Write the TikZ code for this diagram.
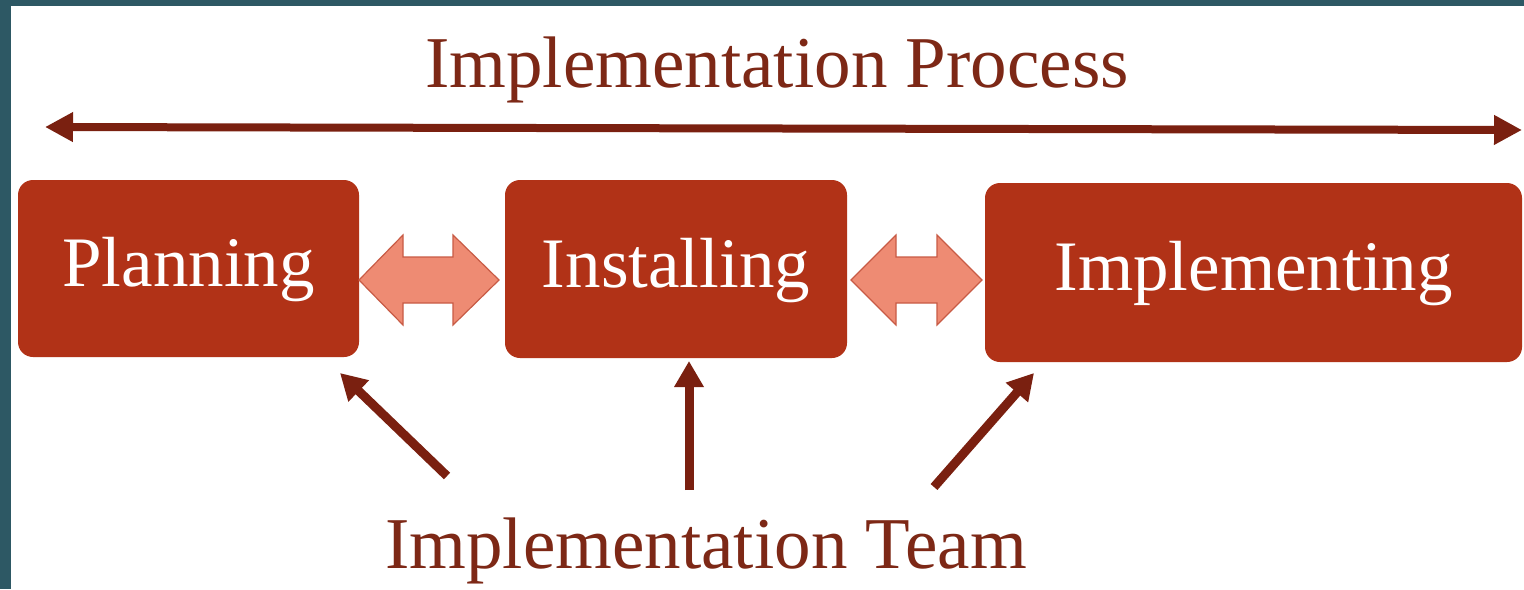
\documentclass[tikz,border=0pt]{standalone}
\usepackage{fontspec}
\setmainfont{Liberation Serif}
\usetikzlibrary{arrows.meta,calc}
\definecolor{bgteal}{HTML}{2D5864}
\definecolor{boxred}{HTML}{B13217}
\definecolor{darkarrow}{HTML}{7A2010}
\definecolor{titlebrown}{HTML}{7D2816}
\definecolor{salmon}{HTML}{EE8B73}
\definecolor{salmonline}{HTML}{C85B45}
\tikzset{
  stagebox/.style={fill=boxred, rounded corners=7.5pt, inner sep=0pt,
    text=white, font=\fontsize{35.5}{40}\selectfont,
    text height=18pt, text depth=0pt},
  titletext/.style={text=titlebrown, font=\fontsize{36.5}{42}\selectfont, inner sep=0pt, anchor=base},
  procarrow/.style={draw=darkarrow, line width=4pt, {Triangle[length=14pt,width=14pt]}-{Triangle[length=14pt,width=14pt]}},
  teamarrow/.style={draw=darkarrow, line width=4.5pt, -{Triangle[length=13pt,width=14pt]}},
  dblarrow/.style={fill=salmon, draw=salmonline, line width=0.6pt, line join=miter}
}
\begin{document}
\begin{tikzpicture}[x=0.5pt,y=-0.5pt]
\fill[bgteal] (0,0) rectangle (1524,589);
\fill[white] (11,6) rectangle (1524,589);
\useasboundingbox (0,0) rectangle (1524,589);

\node[titletext] (title) at (777,87) {Implementation Process};
\coordinate (pl) at (45,127);
\coordinate (pr) at (1522,130);
\draw[procarrow] (pl) -- (pr);

\node[stagebox, minimum width=170.5pt, minimum height=88.5pt] (plan) at (188.5,268.5) {Planning};
\node[stagebox, minimum width=171pt, minimum height=89pt] (inst) at (676,269) {Installing};
\node[stagebox, minimum width=268.5pt, minimum height=89.5pt] (impl) at (1253.5,272.5) {Implementing};

\draw[dblarrow] (359,280) -- (403,235) -- (403,257) -- (453,257) -- (453,235) -- (499,280)
  -- (453,325) -- (453,303) -- (403,303) -- (403,325) -- cycle;
\draw[dblarrow] (851,280) -- (896,235) -- (896,257) -- (937,257) -- (937,235) -- (982,280)
  -- (937,325) -- (937,303) -- (896,303) -- (896,325) -- cycle;

\node[titletext] (team) at (706,568) {Implementation Team};

\coordinate (t1) at (447,476);
\coordinate (h1) at (340,373);
\coordinate (t2) at (689,490);
\coordinate (h2) at (689,361);
\coordinate (t3) at (934,487);
\coordinate (h3) at (1034,373);
\draw[teamarrow] (t1) -- (h1);
\draw[teamarrow] (t2) -- (h2);
\draw[teamarrow] (t3) -- (h3);
\end{tikzpicture}
\end{document}
